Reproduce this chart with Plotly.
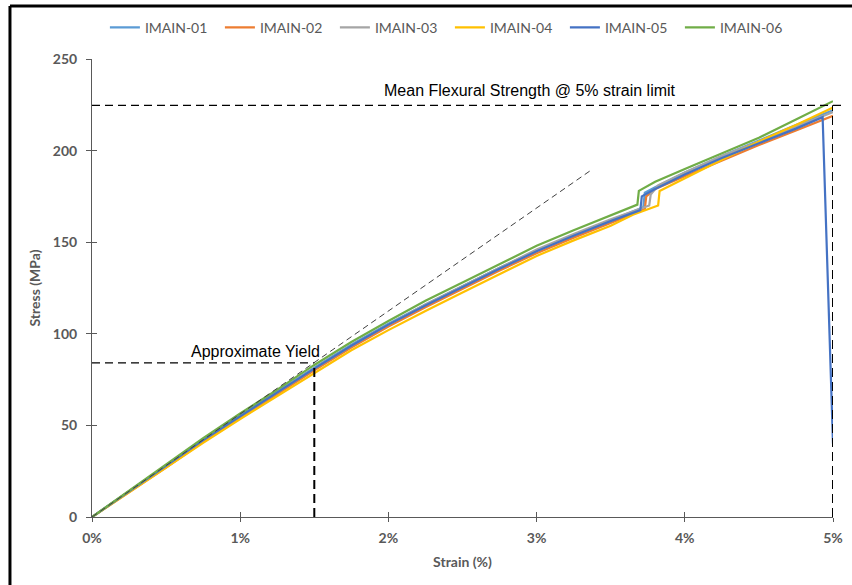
import plotly.graph_objects as go

# ---------------- data ----------------
names = ["IMAIN-01", "IMAIN-02", "IMAIN-03", "IMAIN-04", "IMAIN-05", "IMAIN-06"]
colors = ["#5B9BD5", "#ED7D31", "#A5A5A5", "#FFC000", "#4472C4", "#70AD47"]

strain_01 = [0, 0.25, 0.5, 0.75, 1.0, 1.25, 1.5, 1.75, 2.0, 2.25, 2.5, 2.75, 3.0, 3.25, 3.5, 3.72, 3.73, 3.8, 4.0, 4.25, 4.5, 4.75, 5.0]
stress_01 = [0, 14, 28, 42, 55.5, 68.5, 81.5, 94, 105.5, 116, 126, 136, 145.5, 154, 162, 169, 177, 180, 188, 197, 205.5, 214, 222]

strain_02 = [0, 0.25, 0.5, 0.75, 1.0, 1.25, 1.5, 1.75, 2.0, 2.25, 2.5, 2.75, 3.0, 3.25, 3.5, 3.73, 3.74, 3.8, 4.0, 4.25, 4.5, 4.75, 5.0]
stress_02 = [0, 13.5, 27, 41, 54, 67, 80, 92.5, 104, 114.5, 124.5, 134.5, 144, 152.5, 160.5, 168, 175, 179, 186, 194.5, 203, 211, 219]

strain_03 = [0, 0.25, 0.5, 0.75, 1.0, 1.25, 1.5, 1.75, 2.0, 2.25, 2.5, 2.75, 3.0, 3.25, 3.5, 3.76, 3.77, 3.82, 4.0, 4.25, 4.5, 4.75, 5.0]
stress_03 = [0, 14, 28, 42, 55, 68, 81, 93.5, 105, 116, 126, 136, 146, 154.5, 162.5, 170, 176, 181, 188, 197, 205, 213, 221]

strain_04 = [0, 0.25, 0.5, 0.75, 1.0, 1.25, 1.5, 1.75, 2.0, 2.25, 2.5, 2.75, 3.0, 3.25, 3.5, 3.65, 3.75, 3.82, 3.83, 4.0, 4.25, 4.5, 4.75, 5.0]
stress_04 = [0, 13.5, 27, 40.5, 53.5, 66, 78.5, 91, 102, 112.5, 122.5, 132.5, 142.5, 151, 159, 165, 168, 170, 178, 185, 195, 205, 214, 223.5]

strain_05 = [0, 0.25, 0.5, 0.75, 1.0, 1.25, 1.5, 1.75, 2.0, 2.25, 2.5, 2.75, 3.0, 3.25, 3.5, 3.7, 3.71, 3.8, 4.0, 4.25, 4.5, 4.75, 4.93, 5.0]
stress_05 = [0, 14, 28, 42, 55, 68, 81, 93.5, 105, 115.5, 125.5, 135.5, 145, 153.5, 161.5, 167.5, 175, 179, 187, 196, 204, 212, 218.2, 40]

strain_06 = [0, 0.25, 0.5, 0.75, 1.0, 1.25, 1.5, 1.75, 2.0, 2.25, 2.5, 2.75, 3.0, 3.25, 3.5, 3.68, 3.69, 3.8, 4.0, 4.25, 4.5, 4.75, 5.0]
stress_06 = [0, 14.5, 29, 43, 56.5, 69.5, 83, 95.5, 107, 118, 128, 138, 148, 156.5, 164.5, 170.5, 178, 183, 190, 198.5, 207, 217, 227]

strains = [strain_01, strain_02, strain_03, strain_04, strain_05, strain_06]
stresses = [stress_01, stress_02, stress_03, stress_04, stress_05, stress_06]

# reference lines
tangent_strain = [0, 3.36]
tangent_stress = [0, 188.9]
yield_strain = 1.5
yield_stress = 84.1
limit_strain = 5.0
mean_strength = 224.7

x_ticks = [0, 1, 2, 3, 4, 5]
x_ticktext = ["0%", "1%", "2%", "3%", "4%", "5%"]
y_ticks = [0, 50, 100, 150, 200, 250]

# ---------------- figure ----------------
fig = go.Figure()

for s, y, n, c in zip(strains, stresses, names, colors):
    fig.add_trace(go.Scatter(x=s, y=y, mode="lines", name=n,
                             line=dict(color=c, width=2.2)))

fig.add_trace(go.Scatter(x=tangent_strain, y=tangent_stress, mode="lines",
                         line=dict(color="#404040", width=1, dash="6px,4px"),
                         showlegend=False, hoverinfo="skip"))

# dashed guides
fig.add_shape(type="line", xref="x", yref="y", x0=0, x1=yield_strain,
              y0=yield_stress, y1=yield_stress,
              line=dict(color="black", width=1.2, dash="8px,5px"))
fig.add_shape(type="line", xref="x", yref="y", x0=yield_strain, x1=yield_strain,
              y0=0, y1=yield_stress,
              line=dict(color="black", width=2, dash="9px,5px"))
fig.add_shape(type="line", xref="paper", yref="paper", x0=0, x1=1.016,
              y0=mean_strength / 250, y1=mean_strength / 250,
              line=dict(color="black", width=1.2, dash="8px,5px"))
fig.add_shape(type="line", xref="x", yref="y", x0=limit_strain, x1=limit_strain,
              y0=0, y1=mean_strength,
              line=dict(color="black", width=2, dash="9px,5px"))

# outer frame (top and left edges visible in reference)
fig.add_shape(type="line", xref="paper", yref="paper", x0=-0.1107, x1=1.03,
              y0=1.1157, y1=1.1157, line=dict(color="black", width=3))
fig.add_shape(type="line", xref="paper", yref="paper", x0=-0.1107, x1=-0.1107,
              y0=-0.16, y1=1.1157, line=dict(color="black", width=3))

fig.add_annotation(x=1.1, y=90.6, xref="x", yref="y", text="Approximate Yield",
                   showarrow=False, font=dict(family="Liberation Sans, Arial", size=16, color="black"))
fig.add_annotation(x=2.955, y=233, xref="x", yref="y",
                   text="Mean Flexural Strength @ 5% strain limit",
                   showarrow=False, font=dict(family="Liberation Sans, Arial", size=16, color="black"))

lab_font = dict(family="Lato, Open Sans, sans-serif", size=14, color="#595959", weight="bold")
axis_line = "#595959"

fig.update_layout(
    width=852, height=585,
    margin=dict(l=92, r=19, t=59, b=68, autoexpand=False),
    paper_bgcolor="white", plot_bgcolor="white",
    showlegend=True,
    legend=dict(orientation="h", x=0.483, xanchor="center", y=1.068, yanchor="middle",
                font=dict(family="Lato, Open Sans, sans-serif", size=14, color="#595959"),
                entrywidth=70, entrywidthmode="pixels", bgcolor="rgba(0,0,0,0)"),
    xaxis=dict(range=[0, 5.0], tickvals=x_ticks, ticktext=x_ticktext,
               showgrid=False, zeroline=False, showline=True, linecolor=axis_line, linewidth=1,
               ticks="outside", ticklen=4, tickcolor=axis_line, tickfont=lab_font,
               ticklabelstandoff=4,
               title=dict(text="Strain (%)", font=lab_font, standoff=12)),
    yaxis=dict(range=[0, 250], tickvals=y_ticks,
               showgrid=False, zeroline=False, showline=True, linecolor=axis_line, linewidth=1,
               ticks="outside", ticklen=5, tickcolor=axis_line, tickfont=lab_font,
               ticklabelstandoff=6,
               title=dict(text="Stress (MPa)", font=lab_font, standoff=8)),
    xaxis2=dict(overlaying="x", range=[0, 5.0], tickvals=x_ticks, showticklabels=False,
                ticks="inside", ticklen=5, tickcolor=axis_line, showgrid=False, zeroline=False,
                showline=False, side="bottom", anchor="y", matches="x"),
    yaxis2=dict(overlaying="y", range=[0, 250], tickvals=y_ticks, showticklabels=False,
                ticks="inside", ticklen=5, tickcolor=axis_line, showgrid=False, zeroline=False,
                showline=False, side="left", anchor="x"),
)

# invisible trace to activate the secondary (inside-tick) axes
fig.add_trace(go.Scatter(x=[0], y=[0], xaxis="x2", yaxis="y2", mode="markers",
                         marker=dict(opacity=0), showlegend=False, hoverinfo="skip"))

fig.write_html("out.html")
